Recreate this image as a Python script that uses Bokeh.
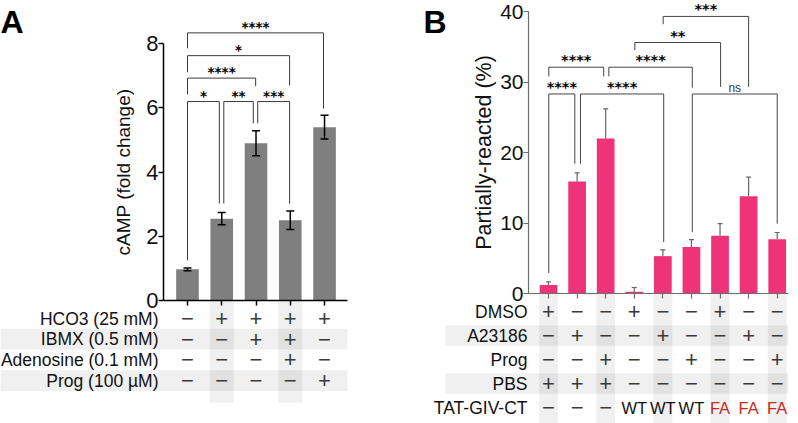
from bokeh.plotting import figure
from bokeh.layouts import row
from bokeh.models import Range1d, FixedTicker
from bokeh.core.properties import value
from bokeh.embed import file_html
from bokeh.resources import INLINE

# ---------------- Panel A data ----------------
a_groups = [1, 2, 3, 4, 5]
a_mean = [0.97, 2.55, 4.90, 2.50, 5.40]
a_sem = [0.04, 0.19, 0.39, 0.29, 0.37]
a_yticks = [0, 2, 4, 6, 8]
a_row_labels = ["HCO3 (25 mM)", "IBMX (0.5 mM)", "Adenosine (0.1 mM)", "Prog (100 µM)"]
a_table = [
    ["-", "+", "+", "+", "+"],
    ["-", "-", "+", "+", "-"],
    ["-", "-", "-", "+", "-"],
    ["-", "-", "-", "-", "+"],
]
a_shaded_rows = [1, 3]
a_shaded_cols = [2, 4]
# (x_left, x_right, y_top, y_left_end, y_right_end, label)
a_brackets = [
    (1.00, 1.93, 6.20, 1.25, 3.02, "*"),
    (2.06, 2.92, 6.20, 3.02, 5.52, "**"),
    (3.05, 3.98, 6.20, 5.52, 3.02, "***"),
    (1.00, 2.99, 6.93, 6.42, 6.68, "****"),
    (1.00, 3.98, 7.63, 7.11, 6.70, "*"),
    (1.00, 4.97, 8.34, 7.86, 5.98, "****"),
]

# ---------------- Panel B data ----------------
b_groups = [1, 2, 3, 4, 5, 6, 7, 8, 9]
b_mean = [1.2, 15.9, 22.0, 0.25, 5.3, 6.6, 8.2, 13.8, 7.7]
b_sem = [0.45, 1.2, 4.2, 0.6, 0.9, 1.05, 1.7, 2.7, 0.95]
b_yticks = [0, 10, 20, 30, 40]
b_row_labels = ["DMSO", "A23186", "Prog", "PBS", "TAT-GIV-CT"]
b_table = [
    ["+", "-", "-", "+", "-", "-", "+", "-", "-"],
    ["-", "+", "-", "-", "+", "-", "-", "+", "-"],
    ["-", "-", "+", "-", "-", "+", "-", "-", "+"],
    ["+", "+", "+", "-", "-", "-", "-", "-", "-"],
    ["-", "-", "-", "WT", "WT", "WT", "FA", "FA", "FA"],
]
b_shaded_rows = [1, 3]
b_shaded_cols = [1, 3, 5, 7, 9]
b_brackets = [
    (1.01, 1.92, 28.3, 2.9, 18.4, "****"),
    (2.12, 5.03, 28.3, 18.4, 7.3, "****"),
    (6.03, 9.00, 28.3, 8.7, 9.9, "ns"),
    (1.01, 2.93, 32.1, 30.8, 30.8, "****"),
    (3.11, 6.03, 32.1, 30.8, 29.2, "****"),
    (4.02, 7.02, 35.6, 34.5, 29.3, "**"),
    (5.01, 8.00, 39.3, 38.2, 29.3, "***"),
]

FONT = "Liberation Sans"
STAR_FONT = "DejaVu Sans"
SIGN = {"+": "+", "-": "\u2212"}
SHADE_ALPHA = 0.06
H = 423


def make_panel(cfg):
    ppx = (cfg["right"] - cfg["left"]) / (cfg["x_hi"] - cfg["x_lo"])
    ppy = cfg["ppy"]
    x0 = cfg["x_lo"] - cfg["left"] / ppx
    x1 = cfg["x_hi"] + (cfg["W"] - cfg["right"]) / ppx
    y_top = cfg["zero_px"] / ppy
    y_bot = -(H - cfg["zero_px"]) / ppy
    p = figure(width=cfg["W"], height=H, output_backend="svg", toolbar_location=None,
               x_range=Range1d(x0, x1), y_range=Range1d(y_bot, y_top), min_border=0)
    p.outline_line_color = None
    p.xgrid.visible = False
    p.ygrid.visible = False

    # --- table geometry in data units ---
    def row_y(i):
        return -(cfg["row0_px"] + cfg["row_h"] * i) / ppy
    half = cfg["row_h"] * cfg["row_frac"] / 2 / ppy
    rs = cfg["shaded_rows"]
    p.quad(left=[x0 + cfg["shade_left_px"] / ppx] * len(rs), right=[cfg["x_hi"]] * len(rs),
           top=[row_y(r) + half for r in rs], bottom=[row_y(r) - half for r in rs],
           fill_color="#000000", fill_alpha=SHADE_ALPHA, line_color=None)
    cs = cfg["shaded_cols"]
    cw = cfg["col_w"] / 2
    col_bottom = -(cfg["col_bottom_px"] - cfg["zero_px"]) / ppy
    p.quad(left=[c - cw for c in cs], right=[c + cw for c in cs], top=[0] * len(cs),
           bottom=[col_bottom] * len(cs), fill_color="#000000", fill_alpha=SHADE_ALPHA,
           line_color=None)

    # --- bars and errors ---
    g, m, s = cfg["groups"], cfg["mean"], cfg["sem"]
    p.vbar(x=g, top=m, width=cfg["bar_w"], fill_color=cfg["bar_color"], line_color=None)
    cap = cfg["cap_px"] / ppx
    lo = [a - b for a, b in zip(m, s)] if cfg["two_sided"] else list(m)
    hi = [a + b for a, b in zip(m, s)]
    p.segment(x0=g, x1=g, y0=lo, y1=hi, line_color=cfg["err_color"], line_width=cfg["err_w"])
    p.segment(x0=[v - cap for v in g], x1=[v + cap for v in g], y0=hi, y1=hi,
              line_color=cfg["err_color"], line_width=cfg["err_w"])
    if cfg["two_sided"]:
        p.segment(x0=[v - cap for v in g], x1=[v + cap for v in g], y0=lo, y1=lo,
                  line_color=cfg["err_color"], line_width=cfg["err_w"])

    # --- significance brackets ---
    br = cfg["brackets"]
    p.multi_line([[b[0], b[0], b[1], b[1]] for b in br], [[b[3], b[2], b[2], b[4]] for b in br],
                 line_color=cfg["br_color"], line_width=1)
    st = [b for b in br if b[5] != "ns"]
    p.text(x=[(b[0] + b[1]) / 2 for b in st], y=[b[2] for b in st], text=[b[5] for b in st],
           text_font=value(STAR_FONT), text_font_style="bold", text_font_size=cfg["star_size"],
           text_align="center", text_baseline="alphabetic", y_offset=cfg["star_dy"],
           text_color="#000000")
    ns = [b for b in br if b[5] == "ns"]
    if ns:
        p.text(x=[(b[0] + b[1]) / 2 for b in ns], y=[b[2] for b in ns], text=[b[5] for b in ns],
               text_font=value(FONT), text_font_size="12px", text_align="center",
               text_baseline="alphabetic", y_offset=-6, text_color="#333333")

    # --- table texts ---
    labels = cfg["row_labels"]
    p.text(x=[cfg["x_lo"]] * len(labels), y=[row_y(i) for i in range(len(labels))], text=labels,
           text_font=value(FONT), text_font_size=cfg["label_size"], text_align="right",
           text_baseline="middle", x_offset=cfg["label_dx"], text_color="#111111")
    sx, sy, stx, wx, wy, wt, wc = [], [], [], [], [], [], []
    for i, r in enumerate(cfg["table"]):
        for j, v in enumerate(r):
            if v in SIGN:
                sx.append(g[j]); sy.append(row_y(i)); stx.append(SIGN[v])
            else:
                wx.append(g[j]); wy.append(row_y(i)); wt.append(v)
                wc.append("#c62a1c" if v == "FA" else "#111111")
    p.text(x=sx, y=sy, text=stx, text_font=value(FONT), text_font_size="22px",
           text_align="center", text_baseline="middle", text_color="#3a3a3a")
    if wt:
        p.text(x=wx, y=wy, text=wt, text_color=wc, text_font=value(FONT),
               text_font_size="16.5px", text_align="center", text_baseline="middle")

    # --- panel letter ---
    p.text(x=[x0 + cfg["letter_px"] / ppx], y=[y_top], text=[cfg["letter"]],
           text_font=value(FONT), text_font_style="bold", text_font_size="32px",
           text_align="left", text_baseline="top", y_offset=3, text_color="#000000")

    # --- axes (library axes fixed at the data origin) ---
    xa, ya = p.xaxis[0], p.yaxis[0]
    xa.fixed_location = 0
    ya.fixed_location = cfg["x_lo"]
    xa.bounds = (cfg["x_lo"], cfg["x_hi"])
    ya.bounds = (cfg["yticks"][0], cfg["yticks"][-1])
    xa.ticker = FixedTicker(ticks=g)
    ya.ticker = FixedTicker(ticks=cfg["yticks"])
    xa.major_label_overrides = {v: "" for v in g}
    for ax in (xa, ya):
        ax.axis_line_color = cfg["axis_color"]
        ax.axis_line_width = cfg["axis_w"]
        ax.major_tick_line_color = cfg["axis_color"]
        ax.major_tick_line_width = cfg["axis_w"]
        ax.major_tick_out = 5
        ax.major_tick_in = 0
        ax.minor_tick_out = 0
        ax.minor_tick_in = 0
    ya.major_label_text_font = FONT
    ya.major_label_text_font_size = cfg["tick_size"]
    ya.major_label_text_color = "#111111"
    ya.major_label_standoff = 0
    ya.axis_label = cfg["ylabel"]
    ya.axis_label_text_font = FONT
    ya.axis_label_text_font_style = "normal"
    ya.axis_label_text_font_size = cfg["ylabel_size"]
    ya.axis_label_text_color = "#111111"
    ya.axis_label_standoff = cfg["ylabel_standoff"]
    return p


pa = make_panel(dict(
    W=400, left=163, right=347, x_lo=0.30, x_hi=5.67, ppy=32.09, zero_px=300,
    groups=a_groups, mean=a_mean, sem=a_sem, yticks=a_yticks, two_sided=True,
    bar_w=0.66, bar_color="#7f7f7f", cap_px=4, err_color="#000000", err_w=1.5,
    brackets=a_brackets, br_color="#3a3a3a", star_size="13.5px", star_dy=-6,
    row_labels=a_row_labels, table=a_table, row0_px=18, row_h=20.7, row_frac=1.0,
    shaded_rows=a_shaded_rows, shaded_cols=a_shaded_cols, shade_left_px=0, col_w=0.70,
    col_bottom_px=402, label_size="17.5px", label_dx=-5, letter="A", letter_px=0,
    axis_color="#000000", axis_w=1.5, ylabel="cAMP (fold change)", ylabel_size="19px",
    ylabel_standoff=9, tick_size="22px",
))

pb = make_panel(dict(
    W=390, left=128, right=388, x_lo=0.30, x_hi=9.395, ppy=7.05, zero_px=293,
    groups=b_groups, mean=b_mean, sem=b_sem, yticks=b_yticks, two_sided=False,
    bar_w=0.62, bar_color="#ee3378", cap_px=2.5, err_color="#666666", err_w=1.2,
    brackets=b_brackets, br_color="#444444", star_size="14.5px", star_dy=-7,
    row_labels=b_row_labels, table=b_table, row0_px=18, row_h=24.0, row_frac=0.86,
    shaded_rows=b_shaded_rows, shaded_cols=b_shaded_cols, shade_left_px=45, col_w=0.66,
    col_bottom_px=423, label_size="17.5px", label_dx=-1, letter="B", letter_px=23,
    axis_color="#6e6e6e", axis_w=1.2, ylabel="Partially-reacted (%)", ylabel_size="21.5px",
    ylabel_standoff=1, tick_size="21px",
))

layout = row(pa, pb, spacing=0)
open("out.html", "w").write(file_html(layout, INLINE))
